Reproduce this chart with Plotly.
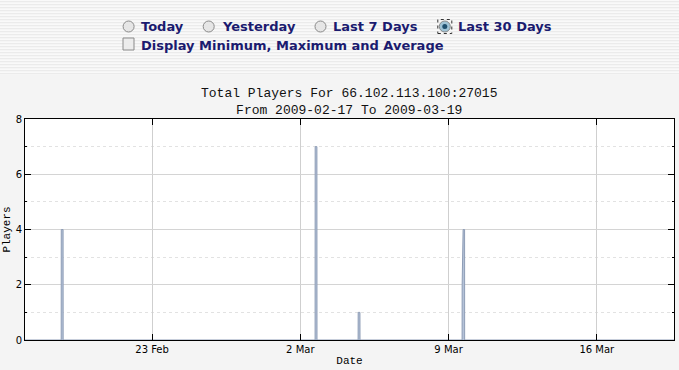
import plotly.graph_objects as go

# ---- data ----
times = [
    "2009-02-17 00:00",
    "2009-02-18 17:00", "2009-02-18 17:05", "2009-02-18 19:10", "2009-02-18 19:15",
    "2009-03-02 16:45", "2009-03-02 16:50", "2009-03-02 18:50", "2009-03-02 18:55",
    "2009-03-04 17:30", "2009-03-04 17:35", "2009-03-04 19:35", "2009-03-04 19:40",
    "2009-03-09 15:20", "2009-03-09 15:25", "2009-03-09 16:30", "2009-03-09 18:10", "2009-03-09 18:15",
    "2009-03-19 15:30",
]
players = [
    0,
    0, 4, 4, 0,
    0, 7, 7, 0,
    0, 1, 1, 0,
    0, 2, 4, 4, 0,
    0,
]
title_line1 = "Total Players For 66.102.113.100:27015"
title_line2 = "From 2009-02-17 To 2009-03-19"
radio_labels = ["Today", "Yesterday", "Last 7 Days", "Last 30 Days"]
checkbox_label = "Display Minimum, Maximum and Average"
x_range = ["2009-02-17 00:00", "2009-03-19 15:30"]

# ---- layout geometry (pixels) ----
W, H = 679, 370
L, R, T, B = 25, 674, 119, 340


def xp(px):
    return (px - L) / (R - L)


def yp(py):
    return (B - py) / (B - T)


fig = go.Figure()
fig.add_trace(go.Scatter(
    x=times, y=players, mode="lines", fill="tozeroy",
    line=dict(color="#8e9db6", width=1), fillcolor="#b4c2d8",
    hoverinfo="x+y", showlegend=False,
))

shapes = []
# striped header background
shapes.append(dict(type="rect", xref="paper", yref="paper", x0=xp(0), x1=xp(W),
                   y0=yp(0), y1=yp(75), fillcolor="#f9f9f9", line=dict(width=0), layer="below"))
for k in range(25):
    y0 = 1 + 3 * k
    shapes.append(dict(type="rect", xref="paper", yref="paper", x0=xp(0), x1=xp(W),
                       y0=yp(y0), y1=yp(y0 + 1.3), fillcolor="#ebebeb", line=dict(width=0), layer="below"))

annotations = []
radio_cx = [128.6, 208.7, 320.5, 444.8]
text_x = [139.4, 219.6, 331.3, 455.6]
ry = 26.5
for i, (cx, tx, lab) in enumerate(zip(radio_cx, text_x, radio_labels)):
    sel = (i == 3)
    shapes.append(dict(type="circle", xref="paper", yref="paper",
                       x0=xp(cx - 5.5), x1=xp(cx + 5.5), y0=yp(ry + 5.5), y1=yp(ry - 5.5),
                       fillcolor="#9fc3d6" if sel else "#e6e6e6",
                       line=dict(color="#8a8a8a", width=1)))
    if sel:
        shapes.append(dict(type="circle", xref="paper", yref="paper",
                           x0=xp(cx - 2.5), x1=xp(cx + 2.5), y0=yp(ry + 2.5), y1=yp(ry - 2.5),
                           fillcolor="#1e4f6e", line=dict(width=0)))
        shapes.append(dict(type="rect", xref="paper", yref="paper",
                           x0=xp(cx - 7), x1=xp(cx + 7), y0=yp(ry + 7), y1=yp(ry - 7),
                           line=dict(color="#333333", width=1, dash="dot")))
    annotations.append(dict(text=lab, xref="paper", yref="paper", x=xp(tx), y=yp(ry),
                            xanchor="left", yanchor="middle", showarrow=False,
                            font=dict(family="DejaVu Sans", size=13, color="#1b1b6f", weight="bold")))
# checkbox
shapes.append(dict(type="rect", xref="paper", yref="paper",
                   x0=xp(123), x1=xp(134), y0=yp(50), y1=yp(38),
                   fillcolor="#ececec", line=dict(color="#8a8a8a", width=1)))
annotations.append(dict(text=checkbox_label, xref="paper", yref="paper", x=xp(138.6), y=yp(45),
                        xanchor="left", yanchor="middle", showarrow=False,
                        font=dict(family="DejaVu Sans", size=13, color="#1b1b6f", weight="bold")))
# title (two lines, one text block)
annotations.append(dict(text=title_line1 + "<br>" + title_line2, xref="paper", yref="paper",
                        x=xp(349), y=yp(101.5), xanchor="center", yanchor="middle",
                        align="center", showarrow=False, borderpad=0,
                        font=dict(family="Liberation Mono", size=13, color="#111111")))

fig.update_layout(
    width=W, height=H,
    margin=dict(l=L, r=W - R, t=T, b=H - B),
    paper_bgcolor="#f4f4f4", plot_bgcolor="#ffffff",
    shapes=shapes, annotations=annotations,
    showlegend=False,
)
fig.update_xaxes(
    range=x_range, type="date",
    tick0="2009-02-23", dtick=7 * 86400000, tickformat="%-d %b",
    ticks="inside", ticklen=6, tickcolor="#000000",
    showline=True, linecolor="#000000", linewidth=1, mirror="allticks",
    showgrid=True, gridcolor="#cfcfcf", gridwidth=1,
    tickfont=dict(family="DejaVu Sans", size=10, color="#000000"),
    title=dict(text="Date", font=dict(family="Liberation Mono", size=11, color="#000000"), standoff=2),
    zeroline=False,
)
fig.update_yaxes(
    range=[0, 8], dtick=2, tick0=0,
    ticks="inside", ticklen=6, tickcolor="#000000",
    showline=True, linecolor="#000000", linewidth=1, mirror="allticks",
    showgrid=True, gridcolor="#d4d4d4", gridwidth=1,
    minor=dict(dtick=1, ticks="inside", ticklen=2, tickcolor="#000000",
               showgrid=True, gridcolor="#e2e2e2", griddash="dot"),
    tickfont=dict(family="DejaVu Sans", size=10, color="#000000"),
    title=dict(text="Players", font=dict(family="Liberation Mono", size=11, color="#000000"), standoff=2),
    zeroline=False,
)

fig.write_html("out.html")
